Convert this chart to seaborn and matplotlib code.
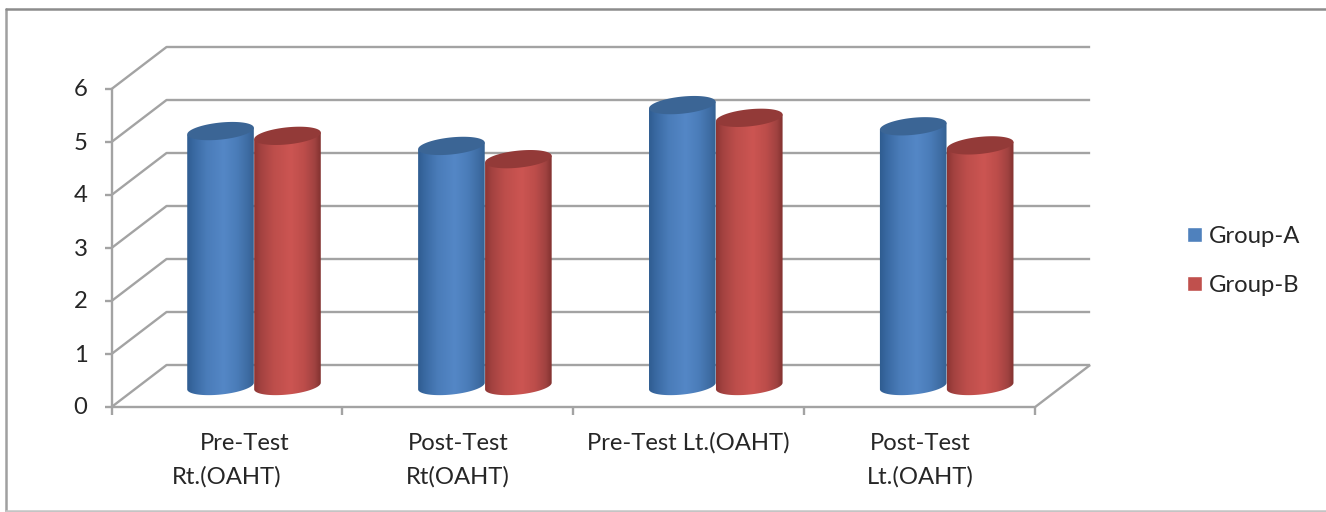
import numpy as np
import pandas as pd
import matplotlib
matplotlib.use("Agg")
import matplotlib.pyplot as plt
import seaborn as sns
from matplotlib.colors import LinearSegmentedColormap
from matplotlib.lines import Line2D
from matplotlib.patches import PathPatch, Polygon
from matplotlib.path import Path

# Values
tests = ["Pre-Test Rt.(OAHT)", "Post-Test Rt(OAHT)", "Pre-Test Lt.(OAHT)", "Post-Test Lt.(OAHT)"]
group_a = [4.81, 4.53, 5.30, 4.90]
group_b = [4.72, 4.28, 5.06, 4.54]
y_ticks = [0, 1, 2, 3, 4, 5, 6]

W, H = 1326, 512
GRID = "#a3a3a3"
TEXT = "#262626"
FONT = 17.2

sns.set_theme(style="white")
plt.rcParams["font.family"] = ["Lato", "DejaVu Sans"]

df = pd.DataFrame(
    {
        "test": tests * 2,
        "score": group_a + group_b,
        "group": ["Group-A"] * len(tests) + ["Group-B"] * len(tests),
    }
)

fig = plt.figure(figsize=(W / 100, H / 100), dpi=100, facecolor="white")

# plot box: y=0 sits mid depth on the floor, one unit is 53 px
step = 230.9
left = 254 - step / 2
ax = fig.add_axes([left / W, (H - 386) / H, 4 * step / W, 318 / H])

sns.barplot(
    data=df,
    x="test",
    y="score",
    hue="group",
    palette=["#4f81bd", "#c0504d"],
    saturation=1,
    width=0.58,
    gap=0,
    ax=ax,
)
px_x = step
px_y = 53.0


def ox(px):
    return px / px_x


def oy(px):
    return px / px_y


ax.set_xlim(-0.5, 3.5)
ax.set_ylim(0, 6)

# walls and floor
front_dx, back_dx = ox(-27), ox(28)
front_dy, back_dy = oy(-21), oy(21)
xa, xb = -0.5, 3.5
line = dict(color=GRID, lw=1.7, clip_on=False, zorder=1, solid_capstyle="butt")
for v in y_ticks:
    ax.plot(
        [xa + front_dx, xa + back_dx, xb + back_dx],
        [v + front_dy, v + back_dy, v + back_dy],
        **line,
    )
    ax.plot([xa + front_dx - ox(7), xa + front_dx], [v + front_dy] * 2, **line)
    ax.text(
        xa + front_dx - ox(24),
        v + front_dy - oy(1),
        str(v),
        ha="right",
        va="center",
        color=TEXT,
        fontsize=FONT,
    )
ax.plot([xa + front_dx] * 2, [front_dy, 6 + front_dy], **line)
ax.plot(
    [xa + front_dx, xb + front_dx, xb + back_dx],
    [front_dy, front_dy, back_dy],
    **line,
)
for i in range(len(tests) + 1):
    x = xa + i + front_dx
    ax.plot([x, x], [front_dy, front_dy - oy(8)], **line)

# category labels, the first one is off centre in the original
label_lines = [
    [("Pre-Test", 245), ("Rt.(OAHT)", 227)],
    [("Post-Test", 458), ("Rt(OAHT)", 458)],
    [("Pre-Test Lt.(OAHT)", 688)],
    [("Post-Test", 920), ("Lt.(OAHT)", 920)],
]
for lines in label_lines:
    for row, (txt, px) in enumerate(lines):
        fig.text(
            px / W,
            1 - (443 + 34 * row) / H,
            txt,
            ha="center",
            va="center",
            color=TEXT,
            fontsize=FONT,
        )

# cylinders on top of the seaborn bars
styles = [
    (
        [(0, "#2e5b8f"), (0.12, "#3a6aa3"), (0.3, "#4a7cb9"), (0.55, "#5487c6"),
         (0.75, "#4a7cb8"), (0.9, "#3e6ca3"), (1, "#335f8f")],
        "#3b6595",
    ),
    (
        [(0, "#8a3331"), (0.12, "#a54341"), (0.3, "#bd4e4b"), (0.55, "#cc5552"),
         (0.75, "#bc4d4a"), (0.9, "#a04240"), (1, "#7d2f2d")],
        "#933a38",
    ),
]
tilt = np.radians(6.0)
b = 8.5


def ring(cx, v, a, t):
    xs = cx + ox(a * np.cos(t) * np.cos(tilt) - b * np.sin(t) * np.sin(tilt))
    ys = v + oy(a * np.cos(t) * np.sin(tilt) + b * np.sin(t) * np.cos(tilt))
    return np.column_stack([xs, ys])


for k, (bars, (stops, top)) in enumerate(zip(ax.containers, styles)):
    cmap = LinearSegmentedColormap.from_list("cyl", stops)
    for bar in bars:
        cx = bar.get_x() + bar.get_width() / 2
        v = bar.get_height()
        a = bar.get_width() * px_x / 2
        bar.set_visible(False)
        lower = np.linspace(0, -np.pi, 60)
        body = np.vstack([ring(cx, v, a, np.array([np.pi, 0.0])), ring(cx, 0, a, lower)])
        body = np.vstack([body, body[:1]])
        clip = PathPatch(Path(body), transform=ax.transData, facecolor="none", edgecolor="none", clip_on=False)
        ax.add_patch(clip)
        im = ax.imshow(
            np.linspace(0, 1, 128)[None, :],
            cmap=cmap,
            aspect="auto",
            extent=[cx - ox(a + 1), cx + ox(a + 1), -0.4, v + 0.3],
            zorder=3 + k,
        )
        im.set_clip_box(fig.bbox)
        im.set_clip_path(clip)
        ell = ring(cx, v, a, np.linspace(0, 2 * np.pi, 120))
        ax.add_patch(Polygon(ell, closed=True, facecolor=top, edgecolor="none", zorder=3 + k, clip_on=False))

ax.set_xlim(-0.5, 3.5)
ax.set_ylim(0, 6)
ax.axis("off")

sns.move_legend(
    ax,
    "center left",
    bbox_to_anchor=(1187 / W, 1 - 261 / H),
    bbox_transform=fig.transFigure,
    frameon=False,
    title=None,
    fontsize=FONT,
    handlelength=0.63,
    handleheight=0.59,
    handletextpad=0.29,
    labelspacing=1.15,
    borderpad=0,
    borderaxespad=0,
)
for t in ax.get_legend().get_texts():
    t.set_color(TEXT)

# chart frame
for xs, ys, c in [
    ([6, 6], [9, 511], "#a0a0a0"),
    ([6, W], [9, 9], "#8c8c8c"),
    ([6, W], [511, 511], "#c4c4c4"),
]:
    fig.add_artist(
        Line2D(
            [x / W for x in xs],
            [1 - y / H for y in ys],
            color=c,
            lw=1.8,
            transform=fig.transFigure,
        )
    )

fig.savefig("out.png", dpi=100)
